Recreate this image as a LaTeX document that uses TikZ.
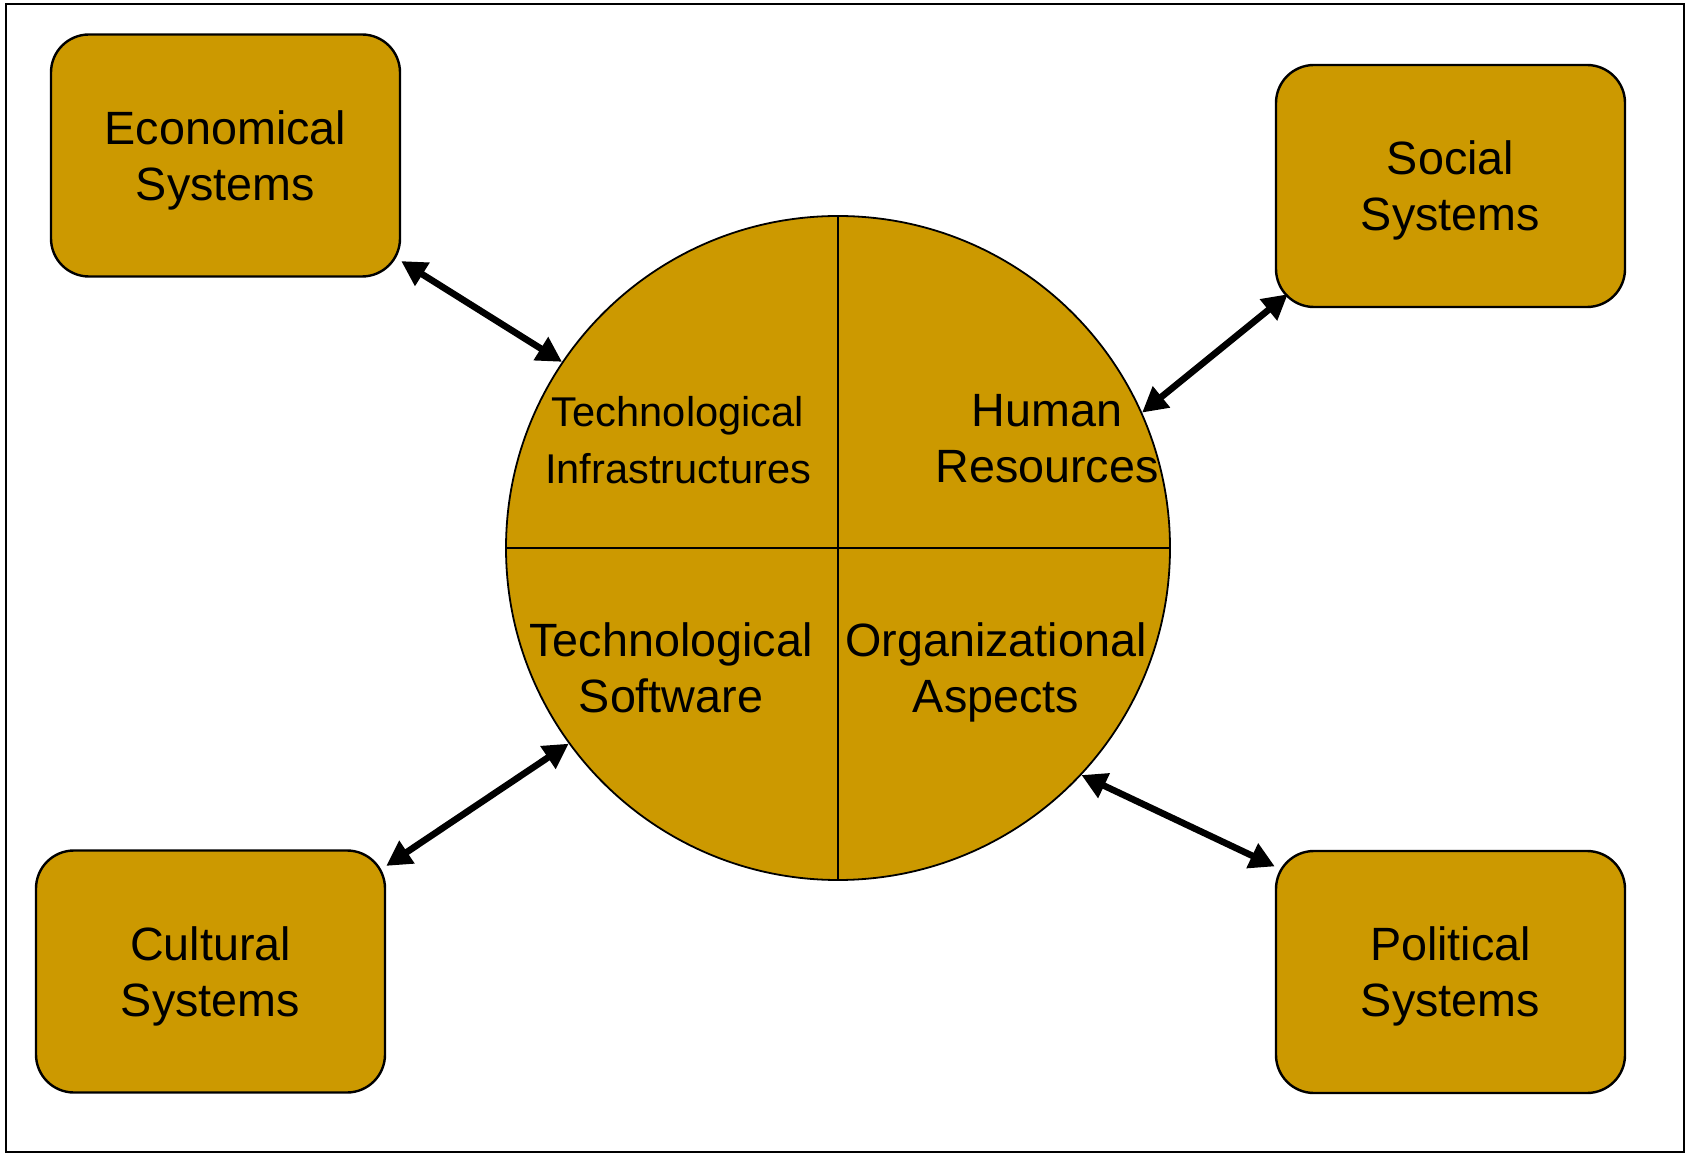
\documentclass[tikz,border=0pt]{standalone}
\usepackage{fontspec}
\setmainfont{Liberation Sans}
\usetikzlibrary{arrows.meta}
\definecolor{ochre}{HTML}{CC9900}

\begin{document}
\begin{tikzpicture}[x=0.5pt,y=-0.5pt,>={Triangle[length=12.5pt,width=13pt]},
    system/.style={draw,line width=1.2pt,fill=ochre,rounded corners=19pt,
      minimum width=174.5pt,minimum height=121pt,align=center,text depth=0pt,
      font=\fontsize{23.35pt}{28pt}\selectfont},
    part/.style={align=center,text depth=0pt,inner sep=0pt,
      font=\fontsize{23.35pt}{28pt}\selectfont},
    link/.style={<->,line width=3.3pt}
  ]
    \useasboundingbox (0,0) rectangle (1692,1154);
    \draw[line width=1.2pt] (6,4) rectangle (1684,1152);

    \node[system] (econ) at (225.5,155.5) {Economical\\Systems};
    \node[system] (social) at (1450.5,186) {Social\\Systems};
    \node[system] (cultural) at (210.5,971.5) {Cultural\\Systems};
    \node[system] (political) at (1450.5,972) {Political\\Systems};

    \node[circle,draw,line width=0.9pt,fill=ochre,minimum size=332pt,inner sep=0pt] (core) at (838,548) {};
    \draw[line width=0.9pt] (core.north) -- (core.south);
    \draw[line width=0.9pt] (core.west) -- (core.east);

    \node[part,font=\fontsize{20.8pt}{28.5pt}\selectfont] (infra) at (678,440) {Technological\\Infrastructures};
    \node[part] (human) at (1047,438) {Human\\Resources};
    \node[part] (software) at (671,668) {Technological\\Software};
    \node[part] (organ) at (996,668) {Organizational\\Aspects};

    \draw[link] (econ.-31) -- (core.146.5);
    \draw[link] ([shift={(13,-14)}]social.south west) -- (core.24);
    \draw[link] (cultural.31) -- (core.216);
    \draw[link] (political.149) -- (core.-43);

  \end{tikzpicture}
\end{document}
